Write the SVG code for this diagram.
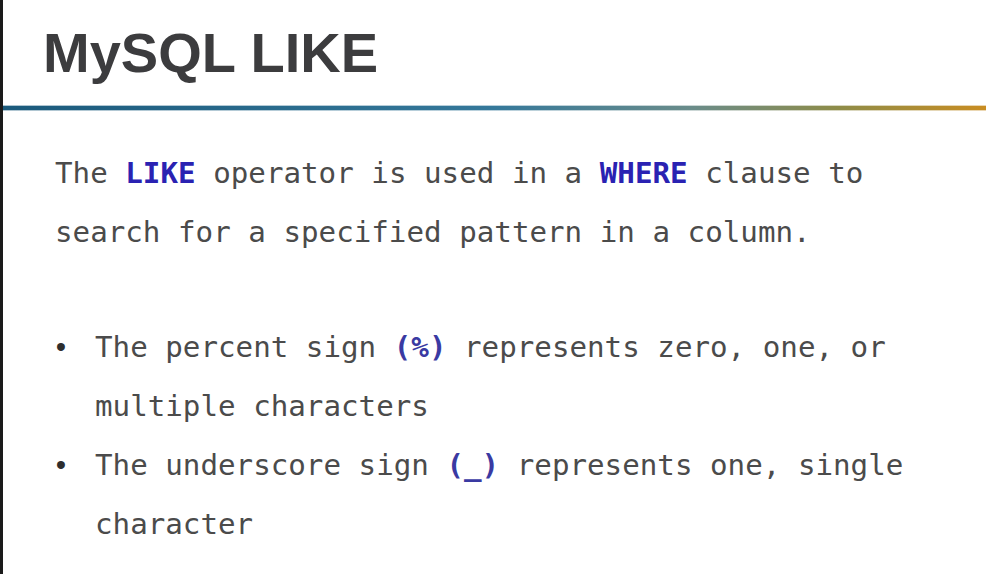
<svg xmlns="http://www.w3.org/2000/svg" width="986" height="574" viewBox="0 0 986 574">
  <defs>
    <linearGradient id="ruleGrad" x1="0" y1="0" x2="1" y2="0">
      <stop offset="0" stop-color="#1b5a7c"/>
      <stop offset="0.5" stop-color="#35789a"/>
      <stop offset="0.7" stop-color="#6a8c8a"/>
      <stop offset="0.85" stop-color="#8e8c48"/>
      <stop offset="1" stop-color="#c98d22"/>
    </linearGradient>
    <style>
      .title { font-family: "Liberation Sans", Arial, sans-serif; font-weight: bold; font-size: 56px; fill: #3c3c3e; }
      .mono { font-family: "DejaVu Sans Mono", "Liberation Mono", monospace; font-size: 29.2px; fill: #4b4b4b; white-space: pre; }
      .kw { font-weight: bold; fill: #2a22b2; }
      .sym { font-weight: bold; fill: #3a3aa2; }
      .bullet { font-family: "Liberation Mono", "DejaVu Sans Mono", monospace; font-size: 29px; fill: #2e2e2e; }
    </style>
  </defs>
  <rect x="0" y="0" width="986" height="574" fill="#ffffff"/>
  <rect x="0" y="0" width="3" height="574" fill="#1a1a1a"/>

  <g id="title">
    <text class="title" x="43" y="72">MySQL LIKE</text>
  </g>

  <g id="rule">
    <rect x="3" y="105" width="983" height="6" fill="url(#ruleGrad)" opacity="0.35"/>
    <rect x="3" y="106" width="983" height="4" fill="url(#ruleGrad)"/>
  </g>

  <g id="intro">
    <text class="mono" x="55" y="183">The <tspan class="kw">LIKE</tspan> operator is used in a <tspan class="kw">WHERE</tspan> clause to</text>
    <text class="mono" x="55" y="242">search for a specified pattern in a column.</text>
  </g>

  <g id="bullet-percent">
    <text class="bullet" x="61" y="357" text-anchor="middle">•</text>
    <text class="mono" x="95" y="357">The percent sign <tspan class="sym">(%)</tspan> represents zero, one, or</text>
    <text class="mono" x="95" y="416">multiple characters</text>
  </g>

  <g id="bullet-underscore">
    <text class="bullet" x="61" y="475" text-anchor="middle">•</text>
    <text class="mono" x="95" y="475">The underscore sign <tspan class="sym">(_)</tspan> represents one, single</text>
    <text class="mono" x="95" y="534">character</text>
  </g>
</svg>
